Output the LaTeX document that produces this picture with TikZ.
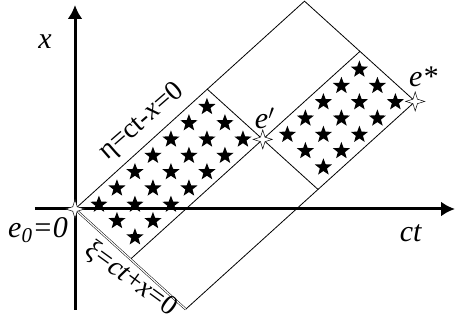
\documentclass[tikz,border=0pt]{standalone}
\usepackage{fontspec}
\setmainfont{Liberation Serif}
\usetikzlibrary{arrows.meta, shapes.geometric}

\begin{document}
\begin{tikzpicture}[x=1pt, y=1pt,
  axis/.style={line width=3pt, -{Latex[length=14pt, width=15pt]}},
  edge/.style={line width=0.8pt},
  fullstar/.style={star, star points=5, star point ratio=2.4, fill=black,
                   inner sep=0pt, minimum size=18pt},
  event/.style={star, star points=4, star point ratio=3, draw=black, fill=white,
                line width=0.5pt, inner sep=0pt, minimum size=19pt},
  lbl/.style={font=\fontsize{30}{34}\selectfont, inner sep=1pt},
  linelbl/.style={font=\fontsize{28}{32}\selectfont, inner sep=1pt}]

% --- Configuration ---
\def\uT{12.75}  % length along eta = 0
\def\vB{6.15}   % length along xi = 0
\def\uM{7.35}   % e' along eta
\def\vM{3.08}   % e' along xi

\useasboundingbox (-75,-114) rectangle (380,209);

% --- Light-cone frame (one unit = one star step) ---
\begin{scope}[x={(18pt,16.3pt)}, y={(18pt,-16.3pt)}]
  \coordinate (O)  at (0,0);
  \coordinate (T)  at (\uT,0);
  \coordinate (B)  at (0,\vB);
  \coordinate (S)  at (\uT,\vB);   % e*
  \coordinate (P1) at (\uM,0);
  \coordinate (Q1) at (0,\vM);
  \coordinate (M)  at (\uM,\vM);   % e'
  \coordinate (P2) at (\uT,\vM);
  \coordinate (Q2) at (\uM,\vB);

  % Stars, first block
  \foreach \p in {0,...,6}
    \foreach \q in {0,1,2}
      \node[fullstar] (a-\p-\q) at (\p+0.8,\q+0.53) {};

  % Stars, second block
  \foreach \p in {0,...,4}
    \foreach \q in {0,1,2}
      \node[fullstar] (b-\p-\q) at (\uM+\p+0.83,\vM+\q+0.54) {};
\end{scope}

% --- Rectangles ---
\draw[edge] (O) -- (T) -- (S) -- (B);
\draw[edge] (P1) -- (Q2);
\draw[edge] (Q1) -- (P2);
\draw[line width=0.5pt, double, double distance=1.2pt] (O) -- (B);

% --- Axes ---
\coordinate (xbot) at (0,-101);
\coordinate (xtop) at (0,204);
\coordinate (tleft) at (-40,0);
\coordinate (tright) at (380,0);
\draw[axis] (xbot) -- (xtop);
\draw[axis] (tleft) -- (tright);

% --- Events ---
\node[event] (e0) at (O) {};
\node[event] (e1) at (M) {};
\node[event] (e2) at (S) {};

% --- Labels ---
\node[lbl] (xlab) at (-30,167) {\textit{x}};
\node[lbl] (tlab) at (336,-24) {\textit{ct}};
\node[lbl] (e0lab) at (-37,-21) {\textit{e}\textsubscript{\textit{0}}\textit{=0}};
\node[lbl] (e1lab) at ([shift={(2,21)}]M) {\textit{e}$'$};
\node[lbl] (e2lab) at ([shift={(8,25)}]S) {\textit{e*}};
\node[linelbl, rotate=41] (etalab) at (67,87) {η=ct-\textit{x}=0};
\node[linelbl, rotate=-36] (xilab) at (56,-70) {ξ=\textit{ct}+\textit{x}=0};

\end{tikzpicture}
\end{document}
